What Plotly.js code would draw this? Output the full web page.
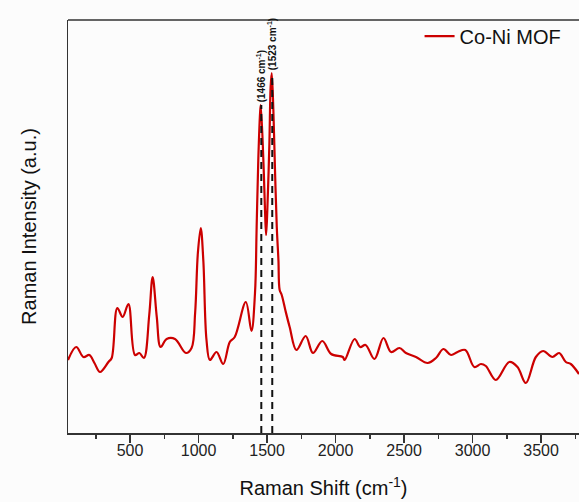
<!DOCTYPE html>
<html>
<head>
<meta charset="utf-8">
<script src="https://cdn.plot.ly/plotly-3.0.1.min.js"></script>
<style>html,body{margin:0;padding:0;background:#fff;}#chart{width:579px;height:502px;}</style>
</head>
<body>
<div id="chart"></div>
<script>
// Raman shift (cm^-1)
const shift = [47, 107, 160, 203, 240, 281, 342, 366, 407, 446, 488, 536, 568, 601, 640, 665, 695, 723, 767, 828, 908, 949,
  975, 995, 1016, 1035, 1058, 1083, 1131, 1180, 1228, 1264, 1345, 1386, 1412, 1424, 1436, 1449, 1454, 1473, 1485, 1493,
  1502, 1517, 1526, 1534, 1546, 1558, 1571, 1583, 1592, 1607, 1635, 1665, 1714, 1782, 1835, 1903, 1968, 2053, 2066, 2139,
  2180, 2219, 2284, 2350, 2405, 2466, 2514, 2587, 2672, 2733, 2787, 2843, 2891, 2947, 3013, 3061, 3097, 3170, 3268, 3328,
  3389, 3462, 3515, 3583, 3632, 3681, 3717, 3777];
// Raman intensity (a.u.)
const intensity = [73, 86, 76, 78, 70, 61, 71, 75, 125, 116, 129, 78, 80, 75, 118, 156, 116, 86, 94, 94, 80, 85,
  120, 180, 205, 172, 93, 73, 81, 69, 91, 96, 131, 102, 140, 206, 273, 320, 328, 273, 223, 198,
  223, 290, 346, 360, 323, 263, 206, 173, 143, 138, 122, 106, 83, 97, 80, 92, 79, 76, 73, 94,
  86, 88, 74, 95, 81, 85, 80, 76, 70, 75, 84, 78, 81, 83, 66, 69, 67, 53, 71, 66,
  50, 76, 82, 76, 80, 71, 69, 59];
// Marked peaks
const peakLineX = [1458, 1538];
const peakLabels = ['(1466 cm<sup>-1</sup>)', '(1523 cm<sup>-1</sup>)'];
const seriesName = 'Co-Ni MOF';
const xTickVals = [500, 1000, 1500, 2000, 2500, 3000, 3500];

function interp(x) {
  for (let i = 0; i < shift.length - 1; i++) {
    if (x >= shift[i] && x <= shift[i + 1]) {
      const t = (x - shift[i]) / (shift[i + 1] - shift[i]);
      return intensity[i] + t * (intensity[i + 1] - intensity[i]);
    }
  }
  return intensity[intensity.length - 1];
}
function localMax(x) {
  let m = interp(x);
  for (let i = 0; i < shift.length; i++) if (Math.abs(shift[i] - x) <= 6) m = Math.max(m, intensity[i]);
  return m;
}

const font = 'Liberation Sans, Arial, sans-serif';
const trace = {
  x: shift, y: intensity, type: 'scatter', mode: 'lines', name: seriesName,
  line: {color: '#cc0000', width: 2.2, shape: 'spline', smoothing: 1}
};

const shapes = peakLineX.map(px => ({
  type: 'line', xref: 'x', yref: 'y', x0: px, x1: px, y0: 0, y1: localMax(px),
  line: {color: '#111', width: 2, dash: '7px,5px'}, layer: 'above'
}));
shapes.push({type: 'line', xref: 'paper', yref: 'paper', x0: 0, x1: 1, y0: 1, y1: 1, line: {color: '#333', width: 1.5}});

const annotations = peakLineX.map((px, i) => ({
  x: px, y: localMax(px), xref: 'x', yref: 'y', text: peakLabels[i], showarrow: false,
  textangle: -90, xanchor: 'center', yanchor: 'bottom', yshift: 1,
  font: {family: font, size: 10, color: '#111', weight: 'bold'}
}));

const layout = {
  width: 579, height: 502,
  margin: {l: 68, r: 0, t: 20, b: 69},
  paper_bgcolor: '#fcfcfc', plot_bgcolor: '#fcfcfc',
  showlegend: true,
  legend: {x: 0.688, y: 1.008, xanchor: 'left', yanchor: 'top', bgcolor: 'rgba(0,0,0,0)',
    font: {family: font, size: 20, color: '#111'}},
  xaxis: {
    range: [47, 3777], showgrid: false, zeroline: false,
    showline: true, linecolor: '#333', linewidth: 1.5,
    ticks: 'outside', ticklen: 8, tickwidth: 1.5, tickcolor: '#333',
    tickvals: xTickVals, ticktext: xTickVals.map(String), ticklabelstandoff: -6,
    minor: {dtick: 250, tick0: 0, ticks: 'outside', ticklen: 4, tickwidth: 1.5, tickcolor: '#333', showgrid: false},
    tickfont: {family: font, size: 16, color: '#222'},
    title: {text: 'Raman Shift (cm<sup>-1</sup>)', font: {family: font, size: 20, color: '#111'}, standoff: 23},
    automargin: false
  },
  yaxis: {
    range: [0, 413], showgrid: false, zeroline: false,
    showline: true, linecolor: '#333', linewidth: 1.5,
    ticks: '', showticklabels: false,
    title: {text: 'Raman Intensity (a.u.)', font: {family: font, size: 20, color: '#111'}, standoff: 24},
    automargin: false
  },
  shapes: shapes,
  annotations: annotations
};

Plotly.newPlot('chart', [trace], layout, {displayModeBar: false, staticPlot: true});
</script>
</body>
</html>
